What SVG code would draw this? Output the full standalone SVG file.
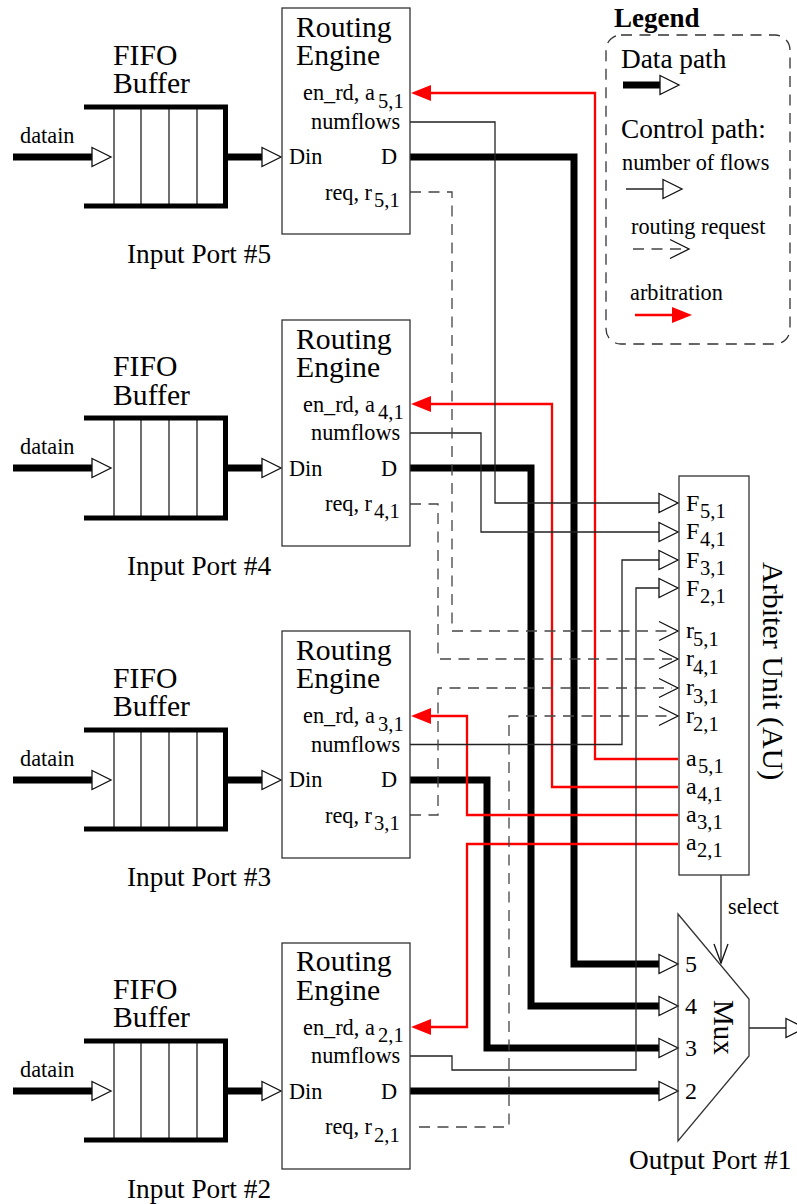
<svg xmlns="http://www.w3.org/2000/svg" width="797" height="1204" viewBox="0 0 797 1204">
<style>
text{font-family:"Liberation Serif","Times New Roman",serif;fill:#000}
.t{font-size:29.700px}.m{font-size:22.300px}.s{font-size:20.500px}.l{font-size:24px}.p{font-size:27.300px}
.box{fill:#fff;stroke:#333;stroke-width:1.3}
.f{fill:none;stroke:#000;stroke-width:5}
.d{fill:none;stroke:#222;stroke-width:1.3}
.data{fill:none;stroke:#000;stroke-width:7}
.thin{fill:none;stroke:#222;stroke-width:1.3}
.req{fill:none;stroke:#444;stroke-width:1.3;stroke-dasharray:11 7.5}
.arb{fill:none;stroke:#f00;stroke-width:2.3}
.h{fill:#fff;stroke:#111;stroke-width:1.3}
.o{fill:none;stroke:#111;stroke-width:1.3}
.r{fill:#f00;stroke:none}
</style>
<defs>
<g id="head"><path class="h" d="M-19 -9.5L0 0L-19 9.5Z"/></g>
<g id="open"><path class="o" d="M-19 -9.5L0 0L-19 9.5"/></g>
<g id="red"><path class="r" d="M0 0L20 -8V8Z"/></g>
</defs>
<g id="connectors">
<path class="data" d="M410 157H574V964H660"/>
<path class="data" d="M410 468H531V1006H660"/>
<path class="data" d="M410 780H487V1048H660"/>
<path class="data" d="M410 1091H660"/>
<path class="arb" d="M678 759H595V93H425"/>
<path class="arb" d="M678 787H552V404H425"/>
<path class="arb" d="M678 815H467V716H425"/>
<path class="arb" d="M678 844H467V1027H425"/>
<path class="thin" d="M410 122H495V503H660"/>
<path class="thin" d="M410 433H481V532H660"/>
<path class="thin" d="M410 744.500H622V560H660"/>
<path class="thin" d="M410 1056H452V1070H636V588H660"/>
<path class="req" d="M410 192H452V631H672"/>
<path class="req" d="M410 504H438V659H672"/>
<path class="req" d="M410 815H438V688H672"/>
<path class="req" d="M419 1127H509V716H672"/>
<use href="#red" x="411" y="93"/><use href="#red" x="411" y="404"/><use href="#red" x="411" y="716"/><use href="#red" x="411" y="1027"/>
<use href="#head" x="678" y="503"/><use href="#head" x="678" y="532"/><use href="#head" x="678" y="560"/><use href="#head" x="678" y="588"/>
<use href="#open" x="678" y="631"/><use href="#open" x="678" y="659"/><use href="#open" x="678" y="688"/><use href="#open" x="678" y="716"/>
<use href="#head" x="678" y="964"/><use href="#head" x="678" y="1006"/><use href="#head" x="678" y="1048"/><use href="#head" x="678" y="1091"/>
<path class="thin" d="M721 875V963"/>
<path class="o" d="M714 944L721 963L728 944"/>
<path class="thin" d="M749 1028H786"/>
<use href="#head" x="805" y="1028"/>
</g>
<g id="port5">
<path class="data" d="M13 157H93M228 157H263"/><use href="#head" x="111" y="157"/><use href="#head" x="281" y="157"/>
<path class="d" d="M114 107V206M141 107V206M169 107V206M197 107V206"/>
<path class="f" d="M84 107H225.500V206H84"/>
<text class="m" x="20" y="143">datain</text><text class="t" x="113" y="65">FIFO</text><text class="t" x="113" y="93">Buffer</text>
<text class="p" x="127" y="263">Input Port #5</text>
</g>
<g id="re5">
<rect class="box" x="282" y="8" width="128" height="226"/>
<text class="t" x="296" y="37">Routing</text><text class="t" x="296" y="65">Engine</text>
<text class="m" x="303" y="100">en_rd, a</text><text class="s" x="378" y="108">5,1</text>
<text class="m" x="311" y="129">numflows</text><text class="m" x="289" y="164">Din</text><text class="m" x="381" y="164">D</text>
<text class="m" x="325" y="200">req, r</text><text class="s" x="374" y="207">5,1</text>
</g>
<g id="port4">
<path class="data" d="M13 468H93M228 468H263"/><use href="#head" x="111" y="468"/><use href="#head" x="281" y="468"/>
<path class="d" d="M114 418V518M141 418V518M169 418V518M197 418V518"/>
<path class="f" d="M84 418H225.500V518H84"/>
<text class="m" x="20" y="454">datain</text><text class="t" x="113" y="376">FIFO</text><text class="t" x="113" y="405">Buffer</text>
<text class="p" x="127" y="575">Input Port #4</text>
</g>
<g id="re4">
<rect class="box" x="282" y="320" width="128" height="226"/>
<text class="t" x="296" y="349">Routing</text><text class="t" x="296" y="377">Engine</text>
<text class="m" x="303" y="412">en_rd, a</text><text class="s" x="378" y="419">4,1</text>
<text class="m" x="311" y="440">numflows</text><text class="m" x="289" y="476">Din</text><text class="m" x="381" y="476">D</text>
<text class="m" x="325" y="511">req, r</text><text class="s" x="374" y="518">4,1</text>
</g>
<g id="port3">
<path class="data" d="M13 780H93M228 780H263"/><use href="#head" x="111" y="780"/><use href="#head" x="281" y="780"/>
<path class="d" d="M114 730V829M141 730V829M169 730V829M197 730V829"/>
<path class="f" d="M84 730H225.500V829H84"/>
<text class="m" x="20" y="766">datain</text><text class="t" x="113" y="688">FIFO</text><text class="t" x="113" y="716">Buffer</text>
<text class="p" x="127" y="886">Input Port #3</text>
</g>
<g id="re3">
<rect class="box" x="282" y="631" width="128" height="227"/>
<text class="t" x="296" y="660">Routing</text><text class="t" x="296" y="688">Engine</text>
<text class="m" x="303" y="723">en_rd, a</text><text class="s" x="378" y="731">3,1</text>
<text class="m" x="311" y="752">numflows</text><text class="m" x="289" y="787">Din</text><text class="m" x="381" y="787">D</text>
<text class="m" x="325" y="823">req, r</text><text class="s" x="374" y="830">3,1</text>
</g>
<g id="port2">
<path class="data" d="M13 1091H93M228 1091H263"/><use href="#head" x="111" y="1091"/><use href="#head" x="281" y="1091"/>
<path class="d" d="M114 1041V1140M141 1041V1140M169 1041V1140M197 1041V1140"/>
<path class="f" d="M84 1041H225.500V1140H84"/>
<text class="m" x="20" y="1077">datain</text><text class="t" x="113" y="999">FIFO</text><text class="t" x="113" y="1027">Buffer</text>
<text class="p" x="127" y="1198">Input Port #2</text>
</g>
<g id="re2">
<rect class="box" x="282" y="943" width="128" height="226"/>
<text class="t" x="296" y="971">Routing</text><text class="t" x="296" y="1000">Engine</text>
<text class="m" x="303" y="1035">en_rd, a</text><text class="s" x="378" y="1042">2,1</text>
<text class="m" x="311" y="1063">numflows</text><text class="m" x="289" y="1099">Din</text><text class="m" x="381" y="1099">D</text>
<text class="m" x="325" y="1134">req, r</text><text class="s" x="374" y="1142">2,1</text>
</g>
<g id="au">
<rect class="box" x="679" y="476" width="70" height="399" style="fill:none"/>
<text class="l" x="686" y="511">F</text><text class="s" x="700" y="518">5,1</text>
<text class="l" x="686" y="539">F</text><text class="s" x="700" y="546">4,1</text>
<text class="l" x="686" y="568">F</text><text class="s" x="700" y="575">3,1</text>
<text class="l" x="686" y="596">F</text><text class="s" x="700" y="603">2,1</text>
<text class="l" x="686" y="638">r</text><text class="s" x="693" y="646">5,1</text>
<text class="l" x="686" y="666">r</text><text class="s" x="693" y="674">4,1</text>
<text class="l" x="686" y="695">r</text><text class="s" x="693" y="703">3,1</text>
<text class="l" x="686" y="723">r</text><text class="s" x="693" y="731">2,1</text>
<text class="l" x="686" y="766">a</text><text class="s" x="698" y="773">5,1</text>
<text class="l" x="686" y="794">a</text><text class="s" x="697" y="801">4,1</text>
<text class="l" x="686" y="822">a</text><text class="s" x="697" y="829">3,1</text>
<text class="l" x="686" y="850">a</text><text class="s" x="697" y="857">2,1</text>
<text class="t" style="font-size:30px" transform="translate(763 562) rotate(90)">Arbiter Unit (AU)</text>
<text class="m" x="728" y="914">select</text>
</g>
<g id="mux">
<path class="box" style="fill:none" d="M678 914L749 999V1056L678 1141Z"/>
<text class="l" x="685" y="972">5</text><text class="l" x="685" y="1014">4</text><text class="l" x="685" y="1056">3</text><text class="l" x="685" y="1099">2</text>
<text class="t" style="font-size:29px" transform="translate(714 1000) rotate(90)">Mux</text>
<text class="p" x="629" y="1169">Output Port #1</text>
</g>
<g id="legend">
<rect x="606" y="35" width="184" height="309" rx="15" fill="none" stroke="#333" stroke-width="1.300" stroke-dasharray="11 7.500"/>
<text x="614" y="27" style="font-size:27px;font-weight:bold">Legend</text>
<text class="p" x="621" y="68">Data path</text>
<path class="data" d="M623 85H661"/><use href="#head" x="679" y="85"/>
<text class="p" x="621" y="138">Control path:</text>
<text class="m" x="622" y="170">number of flows</text>
<path class="thin" d="M626 189H664"/><use href="#head" x="682" y="189"/>
<text class="m" x="631" y="234">routing request</text>
<path class="req" d="M633 249H685"/><use href="#open" x="689" y="249"/>
<text class="m" x="630" y="300">arbitration</text>
<path class="arb" d="M635 315H675"/><use href="#red" transform="translate(692 315) rotate(180)"/>
</g>
</svg>
